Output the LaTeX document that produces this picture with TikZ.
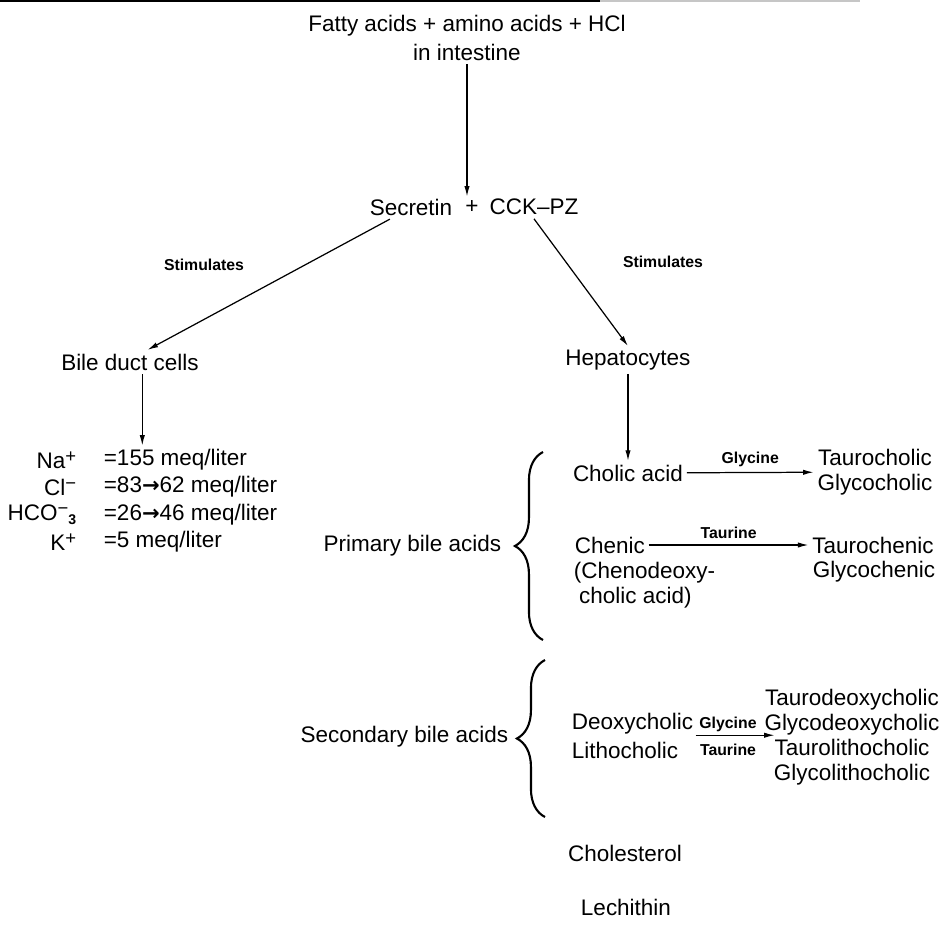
\documentclass[tikz,border=0pt]{standalone}
\usepackage{fontspec}
\setmainfont{Liberation Sans}
\newfontfamily\arrowfont{DejaVu Sans}
\usetikzlibrary{arrows.meta,positioning,decorations.pathreplacing}

\newcommand{\chg}{{\arrowfont\bfseries\fontsize{12}{12}\selectfont →}}
\newcommand{\up}[1]{{\fontsize{10.5}{10}\selectfont\raisebox{0.6ex}{#1}}}

\begin{document}
\begin{tikzpicture}[
  x=0.02cm, y=-0.02cm,
  every node/.style={font=\fontsize{12.8}{14.5}\selectfont, inner sep=2pt},
  lbl/.style={font=\fontsize{9}{10}\selectfont\bfseries},
  arr/.style={line width=0.7pt, -{Latex[length=6pt,width=3pt]}},
  bigbrace/.style={line width=1.2pt, decorate,
    decoration={brace, amplitude=16pt}},
]

%% Scale: 1 px -> 0.02 cm, y runs downwards
\useasboundingbox (0,0) rectangle (951,937);

%% Page rule at the top
\draw[line width=1.4pt] (0,1) -- (600,1);
\draw[line width=1.4pt, gray!45] (600,1) -- (860,1);

%% Stimulus and hormones
\node[align=center, font=\fontsize{12.8}{16}\selectfont] (stim) at (467,38)
  {Fatty acids + amino acids + HCl\\in intestine};
\node (secretin) at (411,207) {Secretin};
\node (plus) at (472,207) {+};
\node (cckpz) at (534,207) {CCK--PZ};
\draw[arr] (stim.south) -- (stim.south |- plus.north);

%% Target cells
\node (bile) at (130,362) {Bile duct cells};
\node (hep) at (628,360) {Hepatocytes};
\node[lbl] (stimL) at (204,265) {Stimulates};
\node[lbl] (stimR) at (663,262) {Stimulates};
\draw[arr] ([xshift=-12pt]secretin.south) -- ([xshift=10pt]bile.north);
\draw[arr] (cckpz.south) -- (hep.north);

%% Bile duct secretion
\foreach \ion/\val/\y [count=\i] in {
    Na\up{+}/{=155 meq/liter}/460,
    Cl\up{−}/{=83\chg62 meq/liter}/487,
    HCO\up{−}\raisebox{-0.35ex}{\fontsize{8}{8}\selectfont\bfseries 3}/{=26\chg46 meq/liter}/515,
    K\up{+}/{=5 meq/liter}/542}{
  \node[anchor=east] (ion\i) at (80,\y) {\ion};
  \node[anchor=west] (val\i) at (100,\y) {\val};
}
\draw[arr] ([xshift=7pt]bile.south) -- ([xshift=7pt]bile.south |- val1.north);

%% Primary bile acids
\node[anchor=east] (primary) at (505,546) {Primary bile acids};
\coordinate (b1top) at (543,452);
\coordinate (b1bot) at (543,640);
\draw[bigbrace] (b1bot) -- (b1top);
\node (cholic) at (628,473) {Cholic acid};
\node[align=center] (cholconj) at (875,472) {Taurocholic\\Glycocholic};
\draw[arr] (hep) -- (cholic);
\draw[arr] (cholic) -- node[lbl, above, yshift=1pt] {Glycine} (cholconj);

\node[anchor=west] (chenic) at (571,545) {Chenic};
\node[anchor=west, align=left] (chenname) at (570,585)
  {(Chenodeoxy-\\\hspace*{3pt}cholic acid)};
\node (taurochen) at (873,545) {Taurochenic};
\node (glycochen) at (874,572) {Glycochenic};
\draw[arr] (chenic) -- node[lbl, above, yshift=1pt] {Taurine} (taurochen);

%% Secondary bile acids
\node[anchor=east] (secondary) at (512,737) {Secondary bile acids};
\coordinate (b2top) at (545,660);
\coordinate (b2bot) at (545,817);
\draw[bigbrace] (b2bot) -- (b2top);
\node[anchor=west] (deoxy) at (568,724) {Deoxycholic};
\node[anchor=west] (litho) at (568,750) {Lithocholic};
\node[lbl] (glysec) at (728,724) {Glycine};
\node[lbl] (taursec) at (728,750) {Taurine};
\node[align=center, font=\fontsize{12.8}{14.2}\selectfont] (secconj) at (852,737)
  {Taurodeoxycholic\\Glycodeoxycholic\\Taurolithocholic\\Glycolithocholic};
\draw[arr, shorten >=-8pt] (glysec.south west) -- (glysec.south west -| secconj.west);

%% Other constituents
\node (chol) at (625,853) {Cholesterol};
\node (lech) at (626,907) {Lechithin};

\end{tikzpicture}
\end{document}
